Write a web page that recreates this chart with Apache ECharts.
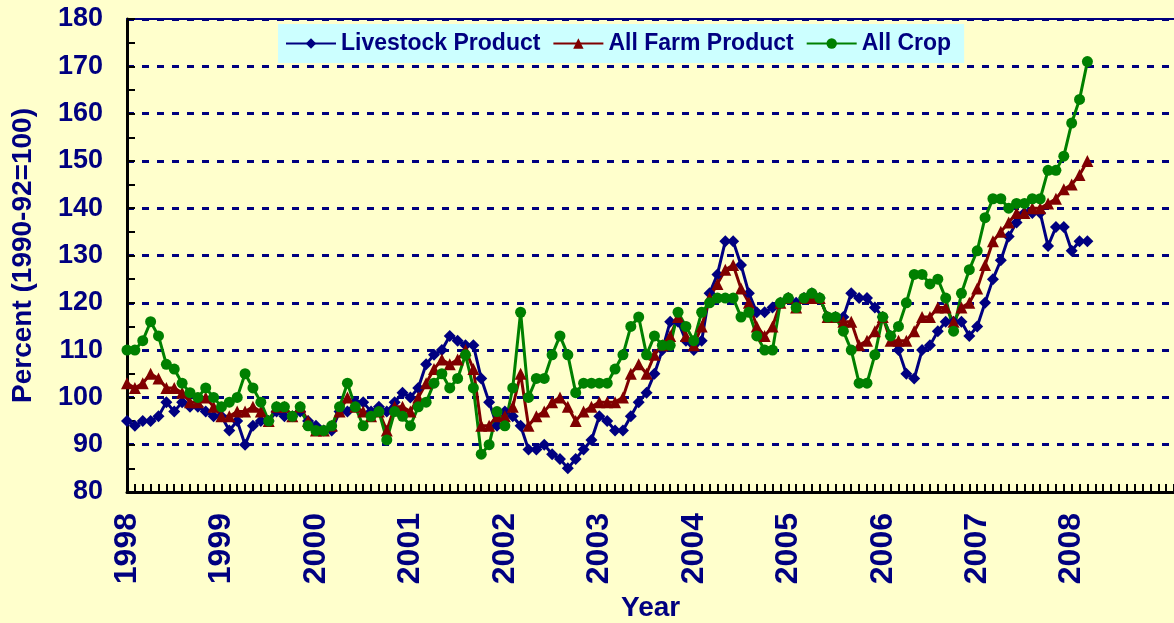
<!DOCTYPE html>
<html>
<head>
<meta charset="utf-8">
<title>Price indexes 1998-2008</title>
<script src="https://cdn.jsdelivr.net/npm/echarts@6/dist/echarts.min.js"></script>
<style>
  html, body { margin: 0; padding: 0; background: #FFFFCC; }
  #container { width: 1174px; height: 623px; }
</style>
</head>
<body>
<div id="container"></div>
<script>
// monthly values, Jan 1998 .. Mar 2008
const yearLabels = ['1998', '1999', '2000', '2001', '2002', '2003', '2004', '2005', '2006', '2007', '2008']
const seriesNames = ['Livestock Product', 'All Farm Product', 'All Crop']

const livestock = [
  95, 94, 95, 95, 96, 99, 97, 99, 98, 98, 97, 96,
  96, 93, 95, 90, 94, 95, 95, 97, 96, 96, 97, 95,
  94, 93, 93, 97, 97, 99, 99, 97, 98, 97, 99, 101,
  100, 102, 107, 109, 110, 113, 112, 111, 111, 104, 99, 94,
  97, 96, 94, 89, 89, 90, 88, 87, 85, 87, 89, 91,
  96, 95, 93, 93, 96, 99, 101, 105, 110, 116, 116, 112,
  110, 112, 122, 126, 133, 133, 128, 122, 118, 118, 119, 120,
  121, 120, 121, 122, 121, 117, 117, 117, 122, 121, 121, 119,
  117, 113, 110, 105, 104, 110, 111, 114, 116, 116, 116, 113,
  115, 120, 125, 129, 134, 137, 139, 139, 139, 132, 136, 136,
  131, 133, 133
]
const allFarm = [
  103, 102, 103, 105, 104, 102, 102, 101, 99, 99, 100, 98,
  96, 96, 97, 97, 98, 97, 95, 98, 98, 96, 98, 95,
  93, 93, 94, 97, 100, 98, 97, 96, 97, 93, 98, 98,
  97, 100, 103, 106, 108, 107, 108, 110, 106, 94, 94, 96,
  96, 98, 105, 94, 96, 97, 99, 100, 98, 95, 97, 98,
  99, 99, 99, 100, 105, 107, 105, 109, 111, 113, 117, 113,
  111, 115, 121, 124, 127, 128, 123, 120, 115, 113, 115, 120,
  121, 119, 121, 121, 121, 117, 117, 116, 116, 111, 112, 114,
  117, 112, 112, 112, 114, 117, 117, 119, 119, 116, 119, 120,
  123, 128, 133, 135, 137, 139, 139, 140, 140, 141, 142, 144,
  145, 147, 150
]
const allCrop = [
  110, 110, 112, 116, 113, 107, 106, 103, 101, 100, 102, 100,
  98, 99, 100, 105, 102, 99, 95, 98, 98, 96, 98, 94,
  93, 93, 94, 98, 103, 98, 94, 96, 97, 91, 97, 96,
  94, 98, 99, 103, 105, 102, 104, 109, 102, 88, 90, 97,
  94, 102, 118, 100, 104, 104, 109, 113, 109, 101, 103, 103,
  103, 103, 106, 109, 115, 117, 109, 113, 111, 111, 118, 115,
  112, 118, 120, 121, 121, 121, 117, 118, 113, 110, 110, 120,
  121, 119, 121, 122, 121, 117, 117, 114, 110, 103, 103, 109,
  117, 113, 115, 120, 126, 126, 124, 125, 121, 114, 122, 127,
  131, 138, 142, 142, 140, 141, 141, 142, 142, 148, 148, 151,
  158, 163, 171
]

// month categories; the axis runs on to Feb 2009 at the right edge
const months = []
for (let i = 0; i < 134; i++) {
    months.push((1998 + Math.floor(i / 12)) + '-' + String(i % 12 + 1).padStart(2, '0'))
}

const navy = '#000080'

let mychart = echarts.init(document.getElementById('container'))

let options = {
    backgroundColor: '#FFFFCC',
    animation: false,
    title: {
        text: 'Year',
        left: 616,
        top: 589,
        textStyle: { fontSize: 28, fontWeight: 'bold', color: navy, fontFamily: 'Arial' }
    },
    legend: {
        data: seriesNames,
        left: 278,
        top: 24,
        backgroundColor: '#CCFFFF',
        padding: [8, 13, 8, 7],
        itemWidth: 50,
        itemHeight: 13,
        itemGap: 12,
        textStyle: { fontSize: 23, fontWeight: 'bold', color: navy, fontFamily: 'Arial' }
    },
    grid: {
        left: 127,
        top: 19,
        right: 0,
        bottom: 131
    },
    xAxis: [
        {
            type: 'category',
            data: months,
            boundaryGap: false,
            axisLine: { show: true, onZero: false, lineStyle: { color: '#000', width: 3 } },
            axisTick: { show: true, inside: true, interval: 0, length: 8, lineStyle: { color: '#000', width: 2 } },
            splitLine: { show: false },
            axisLabel: {
                interval: 11,
                rotate: 90,
                margin: 21,
                fontSize: 32,
                fontWeight: 'bold',
                fontFamily: 'Arial',
                color: navy,
                formatter: v => {
                    const y = v.slice(0, 4)
                    return (v.slice(5) === '01' && yearLabels.includes(y)) ? y : ''
                }
            }
        },
        {
            type: 'value',
            position: 'top',
            min: 0,
            max: 1,
            axisLine: { show: true, lineStyle: { color: navy, width: 2 } },
            axisTick: { show: false },
            axisLabel: { show: false },
            splitLine: { show: false }
        }
    ],
    yAxis: {
        type: 'value',
        min: 80,
        max: 180,
        interval: 10,
        axisLine: { show: true, lineStyle: { color: '#000', width: 3 } },
        axisTick: { show: true, inside: true, length: 8, lineStyle: { color: '#000', width: 2 } },
        minorTick: { show: true, splitNumber: 2, length: 8, lineStyle: { color: '#000', width: 2 } },
        splitLine: { show: true, lineStyle: { color: navy, width: 3, type: [7, 8] } },
        axisLabel: { margin: 24, fontSize: 27, fontWeight: 'bold', fontFamily: 'Arial', color: navy },
        name: 'Percent (1990-92=100)',
        nameLocation: 'middle',
        nameGap: 90,
        nameTextStyle: { fontSize: 28, fontWeight: 'bold', fontFamily: 'Arial', color: navy }
    },
    series: [
        {
            name: seriesNames[0],
            type: 'line',
            data: livestock,
            symbol: 'diamond',
            symbolSize: 12,
            showAllSymbol: true,
            color: navy,
            lineStyle: { width: 3 }
        },
        {
            name: seriesNames[1],
            type: 'line',
            data: allFarm,
            symbol: 'triangle',
            symbolSize: 12,
            showAllSymbol: true,
            color: '#800000',
            lineStyle: { width: 3 }
        },
        {
            name: seriesNames[2],
            type: 'line',
            data: allCrop,
            symbol: 'circle',
            symbolSize: 11,
            showAllSymbol: true,
            color: '#008000',
            lineStyle: { width: 3 }
        }
    ]
}

mychart.setOption(options)
</script>
</body>
</html>
